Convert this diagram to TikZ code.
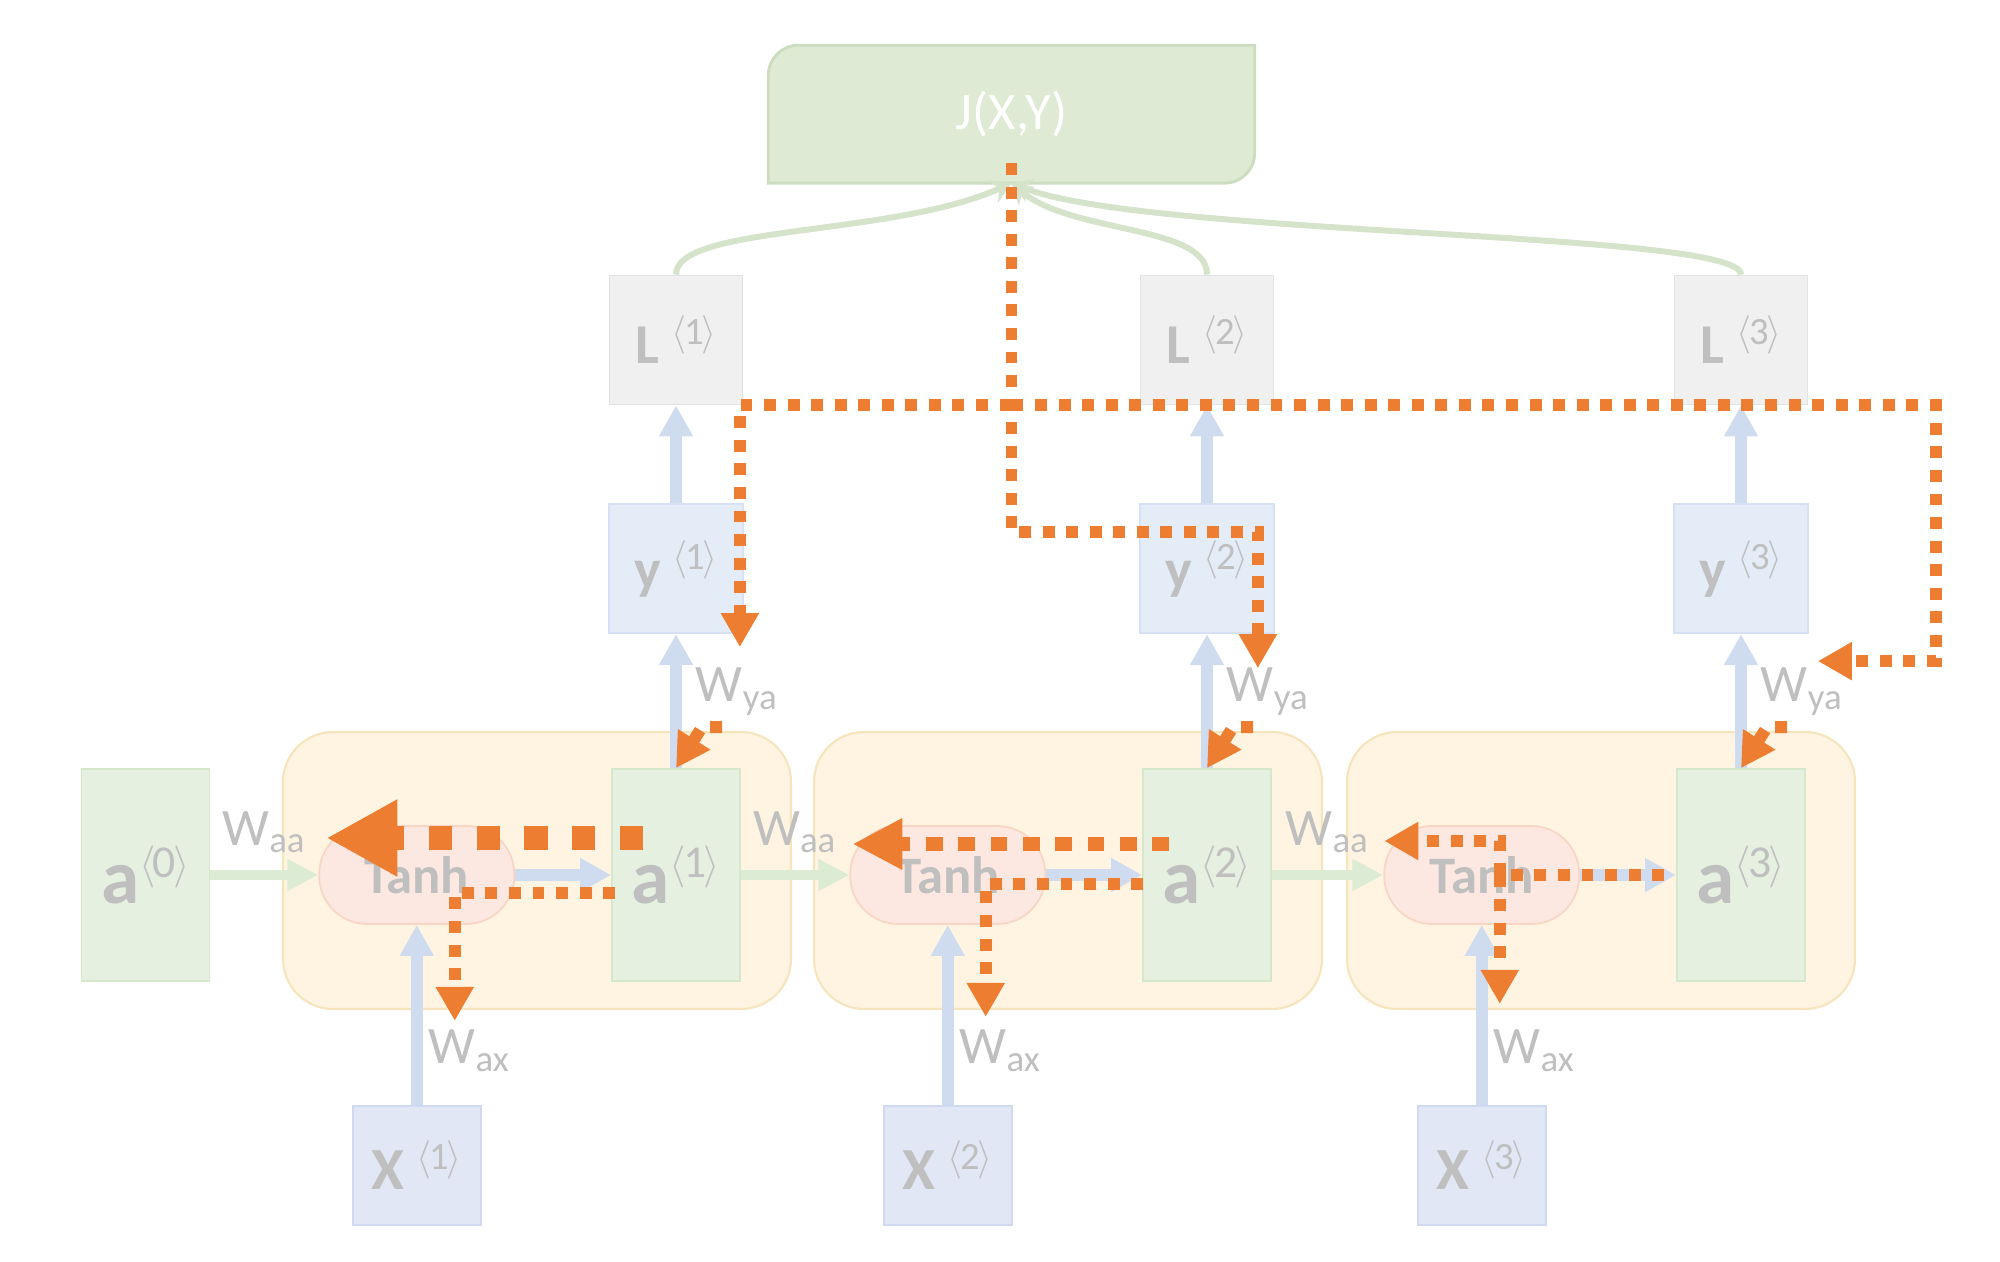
\documentclass[tikz,border=0pt]{standalone}
\usepackage{amsmath}
\usepackage{fontspec}
\setmainfont{Carlito}
\usetikzlibrary{arrows.meta, positioning, calc, backgrounds}

\definecolor{cellfill}{HTML}{FFF4E1}
\definecolor{cellline}{HTML}{F6E4BD}
\definecolor{afill}{HTML}{E6F0E1}
\definecolor{aline}{HTML}{D5E8CC}
\definecolor{tanhfill}{HTML}{FCE8E0}
\definecolor{tanhline}{HTML}{F8D5C4}
\definecolor{yfill}{HTML}{E4ECF7}
\definecolor{yline}{HTML}{D6E1F3}
\definecolor{xfill}{HTML}{E2E7F5}
\definecolor{xline}{HTML}{CFD9F0}
\definecolor{lfill}{HTML}{F0F0F0}
\definecolor{lline}{HTML}{E3E3E3}
\definecolor{jfill}{HTML}{DEEAD3}
\definecolor{jline}{HTML}{CBDDBE}
\definecolor{fwdblue}{HTML}{CFDCF0}
\definecolor{recgreen}{HTML}{DCEBD3}
\definecolor{lossgreen}{HTML}{D5E3CB}
\definecolor{labgray}{HTML}{BFBFBF}
\definecolor{gradorange}{HTML}{ED7D31}

% time step index, e.g. a<1>
\newcommand{\idx}[1]{\raisebox{0.34em}{\fontsize{\idxsize}{\idxsize}\selectfont$\langle$\kern-0.06em#1\kern-0.06em$\rangle$}}
\def\idxsize{11}

\begin{document}
\begin{tikzpicture}[
    cellbox/.style={rectangle, draw=cellline, fill=cellfill, line width=0.6pt, rounded corners=0.5cm, minimum width=5.08cm, minimum height=2.77cm},
    abox/.style={rectangle, draw=aline, fill=afill, line width=0.5pt, minimum width=1.28cm, minimum height=2.12cm, inner sep=0pt, text=labgray, font=\fontsize{22}{22}\selectfont\def\idxsize{13}},
    tanhbox/.style={rectangle, draw=tanhline, fill=tanhfill, line width=0.5pt, rounded corners=0.48cm, minimum width=1.95cm, minimum height=0.98cm, inner sep=0pt, text=labgray, font=\fontsize{15}{15}\selectfont\bfseries},
    ybox/.style={rectangle, draw=yline, fill=yfill, line width=0.5pt, minimum width=1.34cm, minimum height=1.29cm, inner sep=0pt, text=labgray, font=\fontsize{16}{16}\selectfont},
    lbox/.style={ybox, draw=lline, fill=lfill, minimum width=1.33cm},
    xbox/.style={ybox, draw=xline, fill=xfill, minimum width=1.28cm, minimum height=1.19cm, font=\fontsize{17}{17}\selectfont},
    costbox/.style={rectangle, minimum width=4.85cm, minimum height=1.365cm, inner sep=0pt, text=white, font=\fontsize{15}{15}\selectfont},
    wlabel/.style={inner sep=0pt, text=labgray, font=\fontsize{15}{15}\selectfont},
    fwd/.style={-{Triangle[length=0.31cm, width=0.32cm]}, line width=3.4pt, draw=fwdblue},
    rec/.style={-{Triangle[length=0.31cm, width=0.30cm]}, line width=2.8pt, draw=recgreen},
    loss/.style={-{Stealth[length=0.2cm, width=0.24cm]}, line width=1.7pt, draw=lossgreen},
    grad/.style={-{Triangle[length=0.34cm, width=0.36cm]}, line width=3.4pt, draw=gradorange, dash pattern=on 3.4pt off 3.3pt},
    biggrad/.style={grad, -{Triangle[length=0.71cm, width=0.72cm]}, line width=7pt, dash pattern=on 6.6pt off 7pt},
    midgrad/.style={grad, -{Triangle[length=0.5cm, width=0.48cm]}, line width=4pt, dash pattern=on 4.8pt off 4.4pt},
    node distance=1cm
]
\useasboundingbox (0,0) rectangle (20,-12.62);

% cells
\node[cellbox] (cell1) at (5.37,-8.705) {};
\node[cellbox] (cell2) at (10.68,-8.705) {};
\node[cellbox] (cell3) at (16.01,-8.705) {};

% hidden states
\node[abox] (a1) at (6.76,-8.75) {{\bfseries a}\idx{1}};
\node[abox] (a2) at (12.07,-8.75) {{\bfseries a}\idx{2}};
\node[abox] (a3) at (17.41,-8.75) {{\bfseries a}\idx{3}};

\node[tanhbox, left=0.96cm of a1] (tanh1) {Tanh};
\node[tanhbox, left=0.96cm of a2] (tanh2) {Tanh};
\node[tanhbox, left=0.96cm of a3] (tanh3) {Tanh};

\node[abox, left=1.08cm of tanh1] (a0) {{\bfseries a}\idx{0}};

% inputs
\node[xbox, below=1.80cm of tanh1] (x1) {{\bfseries X}\hspace{0.12cm}\idx{1}};
\node[xbox, below=1.80cm of tanh2] (x2) {{\bfseries X}\hspace{0.12cm}\idx{2}};
\node[xbox, below=1.80cm of tanh3] (x3) {{\bfseries X}\hspace{0.12cm}\idx{3}};

% outputs and losses
\node[ybox, above=1.34cm of a1] (y1) {{\bfseries y}\hspace{0.12cm}\idx{1}};
\node[ybox, above=1.34cm of a2] (y2) {{\bfseries y}\hspace{0.12cm}\idx{2}};
\node[ybox, above=1.34cm of a3] (y3) {{\bfseries y}\hspace{0.12cm}\idx{3}};

\node[lbox, above=0.98cm of y1] (L1) {{\bfseries L}\hspace{0.12cm}\idx{1}};
\node[lbox, above=0.98cm of y2] (L2) {{\bfseries L}\hspace{0.12cm}\idx{2}};
\node[lbox, above=0.98cm of y3] (L3) {{\bfseries L}\hspace{0.12cm}\idx{3}};

% cost
\node[costbox] (cost) at (10.115,-1.142) {J(X,Y)};
\begin{scope}[on background layer]
\path[draw=jline, fill=jfill, line width=0.8pt] (cost.south west) -- ([yshift=-0.3cm]cost.north west)
    arc[start angle=180, end angle=90, radius=0.3cm] -- (cost.north east) -- ([yshift=0.3cm]cost.south east)
    arc[start angle=0, end angle=-90, radius=0.3cm] -- cycle;
\end{scope}

% forward pass
\draw[rec] (a0) -- node[wlabel, above=0.17cm] {W$_{\text{aa}}$} (tanh1);
\draw[rec] (a1) -- node[wlabel, above=0.17cm] {W$_{\text{aa}}$} (tanh2);
\draw[rec] (a2) -- node[wlabel, above=0.17cm] {W$_{\text{aa}}$} (tanh3);

\draw[fwd] (x1) -- node[wlabel, pos=0.3, right=0.06cm] {W$_{\text{ax}}$} (tanh1);
\draw[fwd] (x2) -- node[wlabel, pos=0.3, right=0.06cm] {W$_{\text{ax}}$} (tanh2);
\draw[fwd] (x3) -- node[wlabel, pos=0.3, right=0.06cm] {W$_{\text{ax}}$} (tanh3);

\draw[fwd] (tanh1) -- (a1);
\draw[fwd] (tanh2) -- (a2);
\draw[fwd] (tanh3) -- (a3);

\draw[fwd] (a1) -- node[wlabel, pos=0.57, right=0.14cm] {W$_{\text{ya}}$} (y1);
\draw[fwd] (a2) -- node[wlabel, pos=0.57, right=0.14cm] {W$_{\text{ya}}$} (y2);
\draw[fwd] (a3) -- node[wlabel, pos=0.57, right=0.14cm] {W$_{\text{ya}}$} (y3);

\draw[fwd] (y1) -- (L1);
\draw[fwd] (y2) -- (L2);
\draw[fwd] (y3) -- (L3);

\draw[loss] (L1.north) .. controls +(0,0.5) and ($(cost.south)+(-1.2,-0.54)$) .. (cost.south);
\draw[loss] (L2.north) .. controls +(0,0.5) and ($(cost.south)+(0.6,-0.51)$) .. (cost.south);
\draw[loss] (L3.north) .. controls +(0,0.44) and ($(cost.south)+(1.36,-0.54)$) .. (cost.south);

% backward pass
\coordinate (jout) at ($(cost.south)+(0,0.2)$);
\coordinate (br1) at (jout |- L1.south);
\coordinate (br2) at ($(jout |- y2.north)+(0,-0.29)$);
\coordinate (g1) at ($(y1.south east)+(-0.04,-0.13)$);
\coordinate (g2) at ($(y2.south east)+(-0.17,-0.34)$);
\coordinate (g3) at ($(y3.south east)+(0.09,-0.27)$);
\coordinate (t3) at ($(y3.south east)+(1.27,-0.27)$);

\draw[grad] (jout) -- (br2) -| (g2);
\draw[grad] (br1) -| (g1);
\draw[grad] (br1) -| (t3) -- (g3);

\coordinate (wy1) at ($(a1.north)+(0.46,0.41)$);
\coordinate (wy2) at ($(a2.north)+(0.46,0.41)$);
\coordinate (wy3) at ($(a3.north)+(0.46,0.41)$);
\draw[grad] (wy1) -- ++(-0.2,0) -- (a1.north);
\draw[grad] (wy2) -- ++(-0.2,0) -- (a2.north);
\draw[grad] (wy3) -- ++(-0.2,0) -- (a3.north);

% cell 1
\coordinate (b1s) at ($(a1.west)+(0.32,0.37)$);
\coordinate (b1e) at ($(tanh1.west)+(0.08,0.37)$);
\coordinate (d1s) at ($(a1.west)+(0.04,-0.18)$);
\coordinate (d1e) at ($(tanh1.south)+(0.38,-0.96)$);
\draw[biggrad] (b1s) -- (b1e);
\draw[grad] (d1s) -| (d1e);

% cell 2
\coordinate (b2s) at ($(a2.west)+(0.27,0.31)$);
\coordinate (b2e) at ($(tanh2.west)+(0.03,0.31)$);
\coordinate (d2s) at ($(a2.west)+(0.01,-0.09)$);
\coordinate (d2e) at ($(tanh2.south)+(0.38,-0.92)$);
\draw[midgrad] (b2s) -- (b2e);
\draw[grad] (d2s) -| (d2e);

% cell 3
\coordinate (s3) at ($(a3.west)+(-0.12,0)$);
\coordinate (c3) at ($(tanh3.center)+(0.18,0.34)$);
\coordinate (b3e) at ($(tanh3.west)+(0.01,0.34)$);
\coordinate (d3e) at ($(tanh3.south)+(0.18,-0.79)$);
\draw[grad] (s3) -| (c3) -- (b3e);
\draw[grad] (s3) -| (d3e);

\end{tikzpicture}
\end{document}
